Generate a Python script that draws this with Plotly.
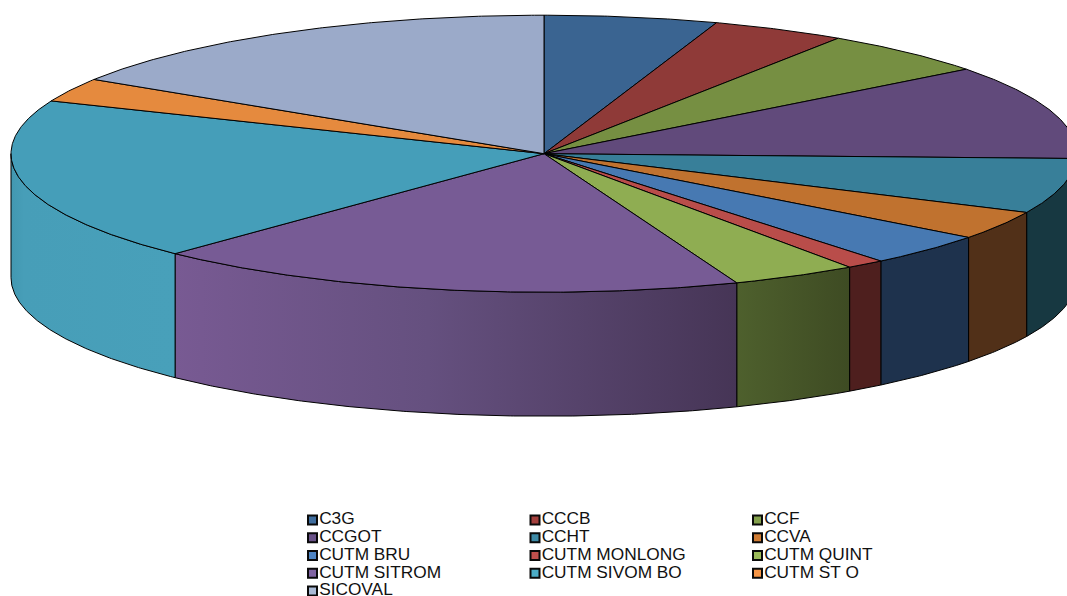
import numpy as np
import plotly.graph_objects as go

categories = ["C3G", "CCCB", "CCF", "CCGOT", "CCHT", "CCVA", "CUTM BRU",
              "CUTM MONLONG", "CUTM QUINT", "CUTM SITROM", "CUTM SIVOM BO",
              "CUTM ST O", "SICOVAL"]
values = [5.25, 4.06, 5.25, 11.0, 6.42, 3.36, 3.78, 1.17, 3.83, 18.06, 19.06, 2.78, 16.0]
top_colors = ["#3A6491", "#8F3A38", "#768F42", "#614A7B", "#387F99", "#C0722F", "#4779B2",
              "#B94D4A", "#8FAD52", "#775B95", "#459EB9", "#E58A3E", "#9BAAC9"]
wall_stops = {
    "CCHT": [[0, "#173841"], [1, "#173841"]],
    "CCVA": [[0, "#513018"], [1, "#513018"]],
    "CUTM BRU": [[0, "#1E324D"], [1, "#1E324D"]],
    "CUTM MONLONG": [[0, "#4E1F1E"], [1, "#4E1F1E"]],
    "CUTM QUINT": [[0, "#4E602D"], [1, "#3E4B23"]],
    "CUTM SITROM": [[0, "#785A93"], [0.45, "#65507F"], [1, "#463556"]],
    "CUTM SIVOM BO": [[0, "#4298B1"], [0.08, "#479EB8"], [1, "#48A0BA"]],
}
swatch_colors = ["#3F6D9E", "#A33F3C", "#83A04B", "#6A5288", "#3D8AA6", "#D07C34", "#4E85C4",
                 "#C0504D", "#9BBB59", "#8064A2", "#4BACC6", "#F79646", "#A9BAD6"]

W, H = 1067, 596
CX, CY, RX, RY, DEPTH = 544, 153.7, 533, 138.5, 124
EDGE = "#000000"


def rim(a0, a1, dy=0.0):
    """Points on the ellipse between two angles (degrees clockwise from 12 o'clock)."""
    n = max(2, int(abs(a1 - a0) * 3))
    t = np.radians(np.linspace(a0, a1, n))
    return CX + RX * np.sin(t), CY - RY * np.cos(t) + dy


fig = go.Figure()
total = sum(values)
edges = np.concatenate([[0], np.cumsum(values) / total * 360])

# side wall: only the front half of the disc is visible
for i, name in enumerate(categories):
    a0, a1 = max(edges[i], 90), min(edges[i + 1], 270)
    if a1 <= a0 or name not in wall_stops:
        continue
    xt, yt = rim(a0, a1)
    xb, yb = rim(a1, a0, DEPTH)
    fig.add_trace(go.Scatter(
        x=np.concatenate([xt, xb, xt[:1]]), y=np.concatenate([yt, yb, yt[:1]]),
        mode="lines", fill="toself", line=dict(color=EDGE, width=1),
        fillgradient=dict(type="horizontal", colorscale=wall_stops[name]),
        hoverinfo="skip", showlegend=False))

# top face
for i, name in enumerate(categories):
    xr, yr = rim(edges[i], edges[i + 1])
    fig.add_trace(go.Scatter(
        x=np.concatenate([[CX], xr, [CX]]), y=np.concatenate([[CY], yr, [CY]]),
        mode="lines", fill="toself", fillcolor=top_colors[i],
        line=dict(color=EDGE, width=1), name=name, showlegend=False))

# legend grid, filled row by row
COLS, ROW0, ROWH = [312.5, 535, 757.5], 520, 17.75
for i, name in enumerate(categories):
    fig.add_trace(go.Scatter(
        x=[COLS[i % 3]], y=[ROW0 + ROWH * (i // 3)], mode="markers+text",
        marker=dict(symbol="square", size=9, color=swatch_colors[i],
                    line=dict(color="#0a0a0a", width=2)),
        text=[name], textposition="middle right",
        textfont=dict(family="Liberation Sans", size=17.3, color="#111111"),
        hoverinfo="skip", showlegend=False, cliponaxis=False))

fig.update_layout(
    width=W, height=H, margin=dict(l=0, r=0, t=0, b=0),
    paper_bgcolor="white", plot_bgcolor="white", showlegend=False,
    xaxis=dict(range=[0, W], visible=False),
    yaxis=dict(range=[H, 0], visible=False),
)
fig.write_html("out.html", config={"displayModeBar": False},
               post_script="document.body.style.margin='0';document.body.style.overflow='hidden';")
